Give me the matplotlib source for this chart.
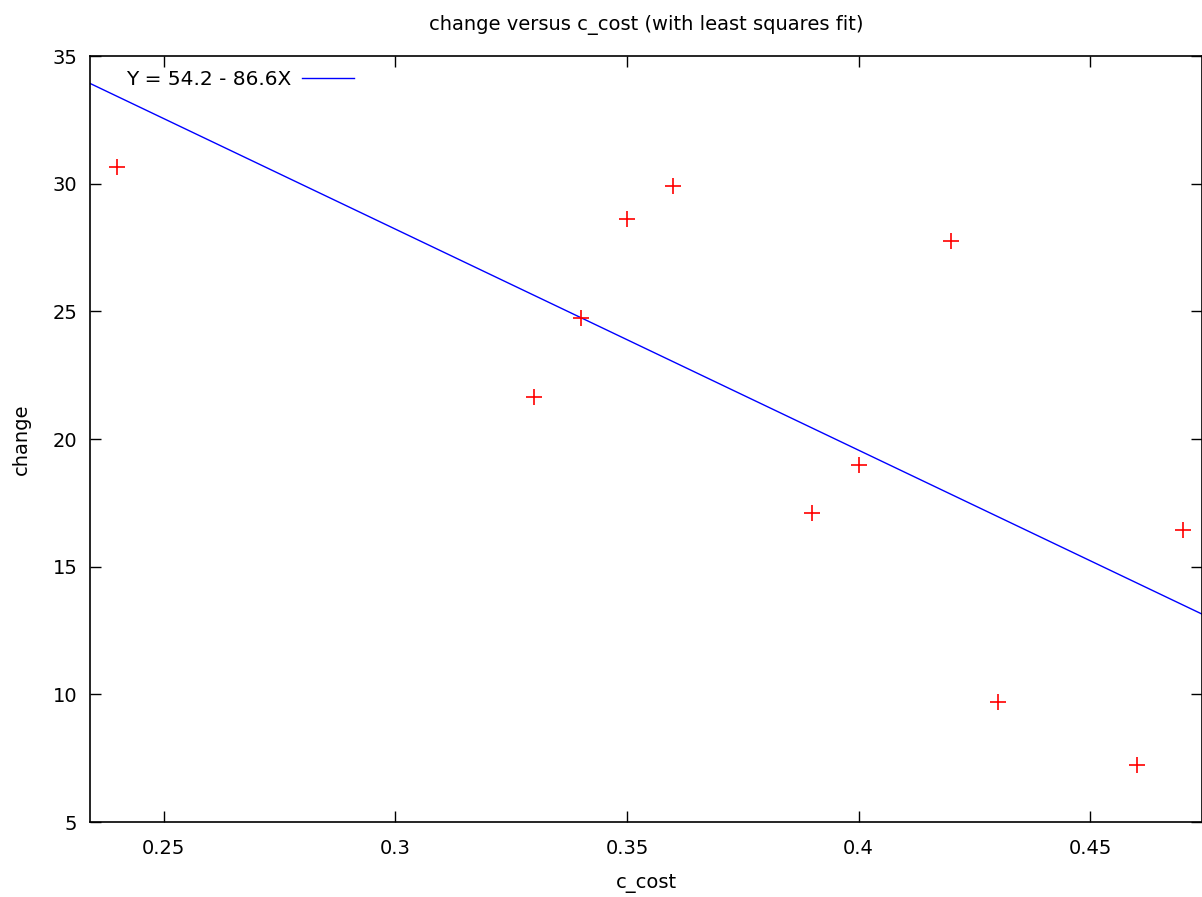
import numpy as np
import matplotlib.pyplot as plt

c_cost = [0.24, 0.33, 0.34, 0.35, 0.36, 0.39, 0.40, 0.42, 0.43, 0.46, 0.47]
change = [30.65, 21.65, 24.75, 28.6, 29.9, 17.1, 19.0, 27.75, 9.7, 7.25, 16.45]
intercept, slope = 54.2, -86.6
xlim = (0.2341, 0.4741)

plt.rcParams['font.family'] = ['DejaVu Sans']
fig = plt.figure(figsize=(12.02, 8.97), dpi=100)
ax = fig.add_axes([90 / 1202, 1 - 822 / 897, 1112 / 1202, (822 - 56) / 897])

xs = np.array(xlim)
ax.plot(xs, intercept + slope * xs, color='blue', lw=1,
        label='Y = 54.2 - 86.6X')
ax.plot(c_cost, change, '+', color='red', ms=12, mew=1.2, clip_on=False)

ax.set_xlim(*xlim)
ax.set_ylim(5, 35)
ax.set_xticks([0.25, 0.3, 0.35, 0.4, 0.45])
ax.set_xticklabels(['0.25', '0.3', '0.35', '0.4', '0.45'])
ax.set_yticks(range(5, 36, 5))
ax.tick_params(direction='in', length=8, width=1, top=True, right=True,
               labelsize=14)
ax.tick_params(axis='x', pad=12)
ax.tick_params(axis='y', pad=9)
for s in ax.spines.values():
    s.set_linewidth(1.2)

ax.set_xlabel('c_cost', fontsize=14, labelpad=12)
ax.set_ylabel('change', fontsize=14, labelpad=16)
ax.set_title('change versus c_cost (with least squares fit)', fontsize=14, pad=19)

ax.legend(loc='upper left', frameon=False, markerfirst=False, fontsize=14.5,
          handlelength=2.6, handletextpad=0.5, borderaxespad=0.3,
          bbox_to_anchor=(0.02, 1.0))

fig.savefig('out.png', dpi=100)
